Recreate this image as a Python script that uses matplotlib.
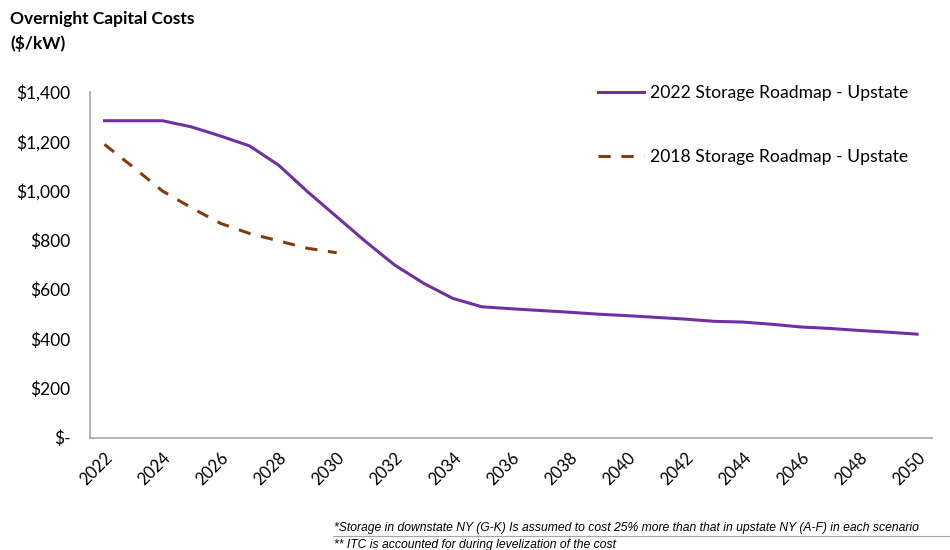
import numpy as np
import matplotlib.pyplot as plt
from matplotlib.lines import Line2D

years = np.arange(2022, 2051)
roadmap_2022 = [1284, 1284, 1284, 1259, 1222, 1182, 1104, 996, 895, 794,
                699, 625, 564, 530, 522, 515, 508, 500, 494, 487,
                480, 471, 468, 459, 448, 442, 434, 427, 419]
years_2018 = np.arange(2022, 2031)
roadmap_2018 = [1188, 1095, 999, 931, 868, 827, 797, 767, 749]

yticks = np.arange(0, 1401, 200)
ytick_labels = ["$-"] + [f"${v:,}" for v in yticks[1:]]
xticks = np.arange(2022, 2051, 2)

purple = "#7030A0"
brown = "#843C0C"
axis_gray = "#A6A6A6"

plt.rcParams['font.family'] = ['Lato', 'DejaVu Sans']

fig = plt.figure(figsize=(9.5, 5.5), dpi=100)
ax = fig.add_axes([0.0947, 0.2045, 0.886, 0.628])

ax.plot(years, roadmap_2022, color=purple, lw=2.2, solid_joinstyle='round')
ax.plot(years_2018, roadmap_2018, color=brown, lw=2.2, ls=(0, (4, 3.5)))

ax.set_xlim(2021.5, 2050.5)
ax.set_ylim(0, 1400)
ax.set_yticks(yticks)
ax.set_yticklabels(ytick_labels, fontsize=12.5)
ax.set_xticks(xticks)
ax.set_xticklabels([str(x) for x in xticks], fontsize=12, rotation=45,
                   ha='right', rotation_mode='anchor')
ax.tick_params(axis='both', length=0, colors='black')
ax.tick_params(axis='y', pad=14)
ax.tick_params(axis='x', pad=9)
for s in ['top', 'right']:
    ax.spines[s].set_visible(False)
for s in ['left', 'bottom']:
    ax.spines[s].set_color(axis_gray)
    ax.spines[s].set_linewidth(1.2)

handles = [Line2D([], [], color=purple, lw=2.2),
           Line2D([], [], color=brown, lw=2.2, ls=(0, (4, 3.5)))]
ax.legend(handles, ["2022 Storage Roadmap - Upstate", "2018 Storage Roadmap - Upstate"],
          loc='upper left', bbox_to_anchor=(0.585, 1.065), frameon=False,
          fontsize=12.6, labelspacing=2.7, handlelength=2.6, handletextpad=0.35)

fig.text(0.011, 0.98, "Overnight Capital Costs\n($/kW)", fontsize=12.5,
         fontweight='bold', va='top', ha='left', linespacing=1.6)

note_font = ['Liberation Sans Narrow', 'Liberation Sans', 'DejaVu Sans']
fig.text(0.352, 0.029, "*Storage in downstate NY (G-K) Is assumed to cost 25% more than that in upstate NY (A-F) in each scenario",
         fontsize=8.7, style='italic', family=note_font, ha='left', va='bottom')
fig.text(0.352, -0.002, "** ITC is accounted for during levelization of the cost",
         fontsize=8.7, style='italic', family=note_font, ha='left', va='bottom')
fig.add_artist(Line2D([0.35, 1.0], [0.025, 0.025], color=axis_gray, lw=0.8))

fig.savefig("out.png", dpi=100)
